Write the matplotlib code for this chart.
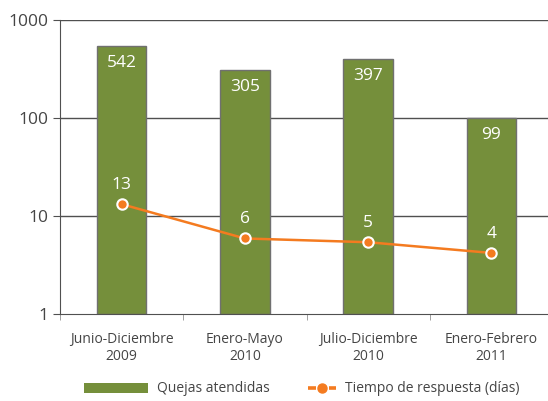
import matplotlib
matplotlib.use("Agg")
import matplotlib.pyplot as plt
import numpy as np
from matplotlib.patches import Rectangle
from matplotlib.lines import Line2D

categories = ["Junio-Diciembre\n2009", "Enero-Mayo\n2010", "Julio-Diciembre\n2010", "Enero-Febrero\n2011"]
quejas = [542, 305, 397, 99]
tiempo = [13.2, 5.9, 5.4, 4.2]
tiempo_labels = ["13", "6", "5", "4"]
yticks = [1, 10, 100, 1000]

plt.rcParams['font.family'] = ['Open Sans', 'DejaVu Sans']
W, H = 548, 401
fig = plt.figure(figsize=(W/100, H/100), dpi=100)
ax = fig.add_axes([60/W, 1-314/H, (553-60)/W, (314-20)/H])

x = np.arange(len(categories))
green = "#758f3b"
orange = "#f47b20"
txt = "#454545"

ax.set_yscale("log")
ax.set_ylim(1, 1000)
ax.set_xlim(-0.5, len(categories)-0.5)
for yv in yticks[1:]:
    ax.axhline(yv, color="#505050", lw=1.0, zorder=0)

ax.bar(x, quejas, width=0.4, color=green, edgecolor="#707070", linewidth=1.0, zorder=2, bottom=1)
for xi, v in zip(x, quejas):
    ax.text(xi, v*0.82, str(v), ha="center", va="top", color="white", fontsize=12.5, zorder=4)

ax.plot(x, tiempo, color=orange, lw=1.8, marker="o", markersize=7.5,
        markerfacecolor=orange, markeredgecolor="white", markeredgewidth=1.5, zorder=3)
for xi, v, lab in zip(x, tiempo, tiempo_labels):
    ax.text(xi, v*1.3, lab, ha="center", va="bottom", color="white", fontsize=12.5, zorder=4)

ax.set_yticks(yticks)
ax.set_yticklabels([str(v) for v in yticks], fontsize=12.5, color=txt)
ax.minorticks_off()
ax.set_xticks(x)
ax.set_xticklabels(categories, fontsize=10, color=txt, linespacing=1.2)
ax.tick_params(axis="x", length=0, pad=13)
ax.set_xticks(np.arange(-0.5, len(categories), 1), minor=True)
ax.tick_params(axis="x", which="minor", length=4, color="#909090")
ax.tick_params(axis="y", length=5, color="#505050", pad=3)
for s in ["top", "right"]:
    ax.spines[s].set_visible(False)
ax.spines["left"].set_color("#505050")
ax.spines["bottom"].set_color("#505050")

# legend (drawn in figure coordinates)
ly = 1 - 388/H
fig.add_artist(Rectangle((84/W, 1-393/H), 64/W, 10/H, transform=fig.transFigure,
                         facecolor=green, edgecolor="none"))
fig.text(157/W, ly, "Quejas atendidas", ha="left", va="center", fontsize=10, color=txt)
for x0, x1 in [(308, 315.5), (328.5, 336)]:
    fig.add_artist(Line2D([x0/W, x1/W], [ly, ly], transform=fig.transFigure, color=orange,
                          lw=2.6, solid_capstyle="butt"))
fig.add_artist(Line2D([322/W], [ly], transform=fig.transFigure, color=orange, marker="o",
                      markersize=6.5, markerfacecolor=orange, markeredgecolor=orange, lw=0))
fig.text(345/W, ly, "Tiempo de respuesta (días)", ha="left", va="center", fontsize=10, color=txt)

fig.savefig("out.png", dpi=100)
